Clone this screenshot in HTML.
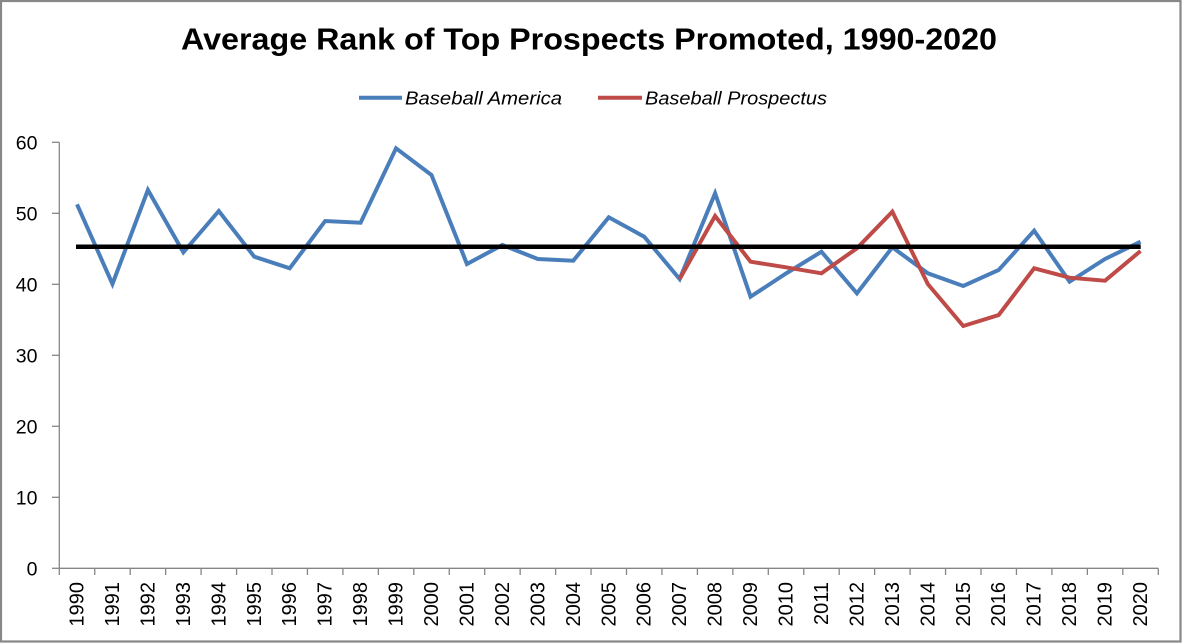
<!DOCTYPE html>
<html><head><meta charset="utf-8"><style>
html,body{margin:0;padding:0;background:#fff;}
svg{display:block;}
</style></head><body>
<svg width="1182" height="643" viewBox="0 0 1182 643" xmlns="http://www.w3.org/2000/svg">
<rect x="0" y="0" width="1182" height="643" fill="#fff"/>
<rect x="1" y="1" width="1179.5" height="640.5" fill="none" stroke="#878787" stroke-width="2.2"/>
<text x="589" y="49.5" font-family="'Liberation Sans', sans-serif" font-weight="bold" font-size="31" text-anchor="middle" textLength="816" lengthAdjust="spacingAndGlyphs" fill="#000">Average Rank of Top Prospects Promoted, 1990-2020</text>
<line x1="359" y1="97.7" x2="402" y2="97.7" stroke="#4A7EBB" stroke-width="4"/>
<text x="405" y="104.3" font-family="'Liberation Sans', sans-serif" font-style="italic" font-size="18" textLength="157" lengthAdjust="spacingAndGlyphs" fill="#000">Baseball America</text>
<line x1="598" y1="97.7" x2="642" y2="97.7" stroke="#BE4B48" stroke-width="4"/>
<text x="645" y="104.3" font-family="'Liberation Sans', sans-serif" font-style="italic" font-size="18" textLength="182" lengthAdjust="spacingAndGlyphs" fill="#000">Baseball Prospectus</text>
<g stroke="#868686" stroke-width="1.3" fill="none">
<line x1="59.3" y1="142.3" x2="59.3" y2="568.3"/>
<line x1="59.3" y1="568.3" x2="1158.3" y2="568.3"/>
<line x1="52" y1="142.3" x2="59.3" y2="142.3"/>
<line x1="52" y1="213.3" x2="59.3" y2="213.3"/>
<line x1="52" y1="284.3" x2="59.3" y2="284.3"/>
<line x1="52" y1="355.3" x2="59.3" y2="355.3"/>
<line x1="52" y1="426.3" x2="59.3" y2="426.3"/>
<line x1="52" y1="497.3" x2="59.3" y2="497.3"/>
<line x1="52" y1="568.3" x2="59.3" y2="568.3"/>
<path d="M59.3 568.3V575M94.75 568.3V575M130.2 568.3V575M165.65 568.3V575M201.1 568.3V575M236.55 568.3V575M272 568.3V575M307.45 568.3V575M342.9 568.3V575M378.35 568.3V575M413.8 568.3V575M449.25 568.3V575M484.7 568.3V575M520.15 568.3V575M555.6 568.3V575M591.05 568.3V575M626.5 568.3V575M661.95 568.3V575M697.4 568.3V575M732.85 568.3V575M768.3 568.3V575M803.75 568.3V575M839.2 568.3V575M874.65 568.3V575M910.1 568.3V575M945.55 568.3V575M981 568.3V575M1016.45 568.3V575M1051.9 568.3V575M1087.35 568.3V575M1122.8 568.3V575M1158.3 568.3V575"/>
</g>
<g font-family="'Liberation Sans', sans-serif" font-size="19.5" fill="#000" text-anchor="end">
<text x="37.5" y="149.3">60</text>
<text x="37.5" y="220.3">50</text>
<text x="37.5" y="291.3">40</text>
<text x="37.5" y="362.3">30</text>
<text x="37.5" y="433.3">20</text>
<text x="37.5" y="504.3">10</text>
<text x="37.5" y="575.3">0</text>
</g>
<g font-family="'Liberation Sans', sans-serif" font-size="20" fill="#000" text-anchor="end">
<text transform="translate(83.5,582) rotate(-90)">1990</text>
<text transform="translate(118.95,582) rotate(-90)">1991</text>
<text transform="translate(154.4,582) rotate(-90)">1992</text>
<text transform="translate(189.85,582) rotate(-90)">1993</text>
<text transform="translate(225.3,582) rotate(-90)">1994</text>
<text transform="translate(260.75,582) rotate(-90)">1995</text>
<text transform="translate(296.2,582) rotate(-90)">1996</text>
<text transform="translate(331.65,582) rotate(-90)">1997</text>
<text transform="translate(367.1,582) rotate(-90)">1998</text>
<text transform="translate(402.55,582) rotate(-90)">1999</text>
<text transform="translate(438,582) rotate(-90)">2000</text>
<text transform="translate(473.45,582) rotate(-90)">2001</text>
<text transform="translate(508.9,582) rotate(-90)">2002</text>
<text transform="translate(544.35,582) rotate(-90)">2003</text>
<text transform="translate(579.8,582) rotate(-90)">2004</text>
<text transform="translate(615.25,582) rotate(-90)">2005</text>
<text transform="translate(650.7,582) rotate(-90)">2006</text>
<text transform="translate(686.15,582) rotate(-90)">2007</text>
<text transform="translate(721.6,582) rotate(-90)">2008</text>
<text transform="translate(757.05,582) rotate(-90)">2009</text>
<text transform="translate(792.5,582) rotate(-90)">2010</text>
<text transform="translate(827.95,582) rotate(-90)">2011</text>
<text transform="translate(863.4,582) rotate(-90)">2012</text>
<text transform="translate(898.85,582) rotate(-90)">2013</text>
<text transform="translate(934.3,582) rotate(-90)">2014</text>
<text transform="translate(969.75,582) rotate(-90)">2015</text>
<text transform="translate(1005.2,582) rotate(-90)">2016</text>
<text transform="translate(1040.65,582) rotate(-90)">2017</text>
<text transform="translate(1076.1,582) rotate(-90)">2018</text>
<text transform="translate(1111.55,582) rotate(-90)">2019</text>
<text transform="translate(1147,582) rotate(-90)">2020</text>
</g>
<polyline fill="none" stroke="#4A7EBB" stroke-width="4" stroke-linejoin="miter" points="77,204.3 112.45,284 147.9,190 183.35,252.3 218.8,211 254.25,256.7 289.7,268.3 325.15,221 360.6,222.7 396.05,148.3 431.5,175 466.95,264 502.4,245 537.85,259 573.3,260.7 608.75,217.3 644.2,236.7 679.65,279 715.1,193.3 750.55,296.7 786,273.5 821.45,251.7 856.9,293.3 892.35,247.3 927.8,273.3 963.25,286 998.7,270 1034.15,230.7 1069.6,281.7 1105.05,259 1140.5,241.7"/>
<polyline fill="none" stroke="#BE4B48" stroke-width="4" stroke-linejoin="miter" points="679.65,279 715.1,216 750.55,261.7 786,267.3 821.45,273.3 856.9,248.3 892.35,211.7 927.8,284 963.25,326 998.7,315 1034.15,268.3 1069.6,277.7 1105.05,280.7 1140.5,251"/>
<line x1="76" y1="246.7" x2="1140.7" y2="246.7" stroke="#000" stroke-width="4.5"/>
</svg>
</body></html>
